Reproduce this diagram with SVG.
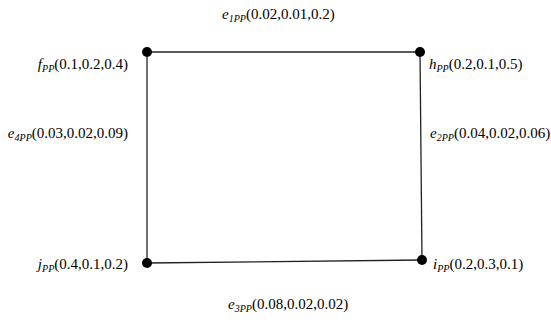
<svg xmlns="http://www.w3.org/2000/svg" width="551" height="323" viewBox="0 0 551 323">
<style>
.t{font-family:'Liberation Serif','DejaVu Serif',serif;font-size:15px;fill:#000}
.v{font-style:italic}
.s{font-style:italic;font-size:10px}
.e{stroke:#222;stroke-width:1.3;fill:none}
.n{fill:#000}
</style>
<rect width="551" height="323" fill="#fff"/>
<g id="connectors">
<line class="e" x1="147" y1="52" x2="420" y2="52"/>
<line class="e" x1="420" y1="52" x2="422" y2="260"/>
<line class="e" x1="422" y1="260" x2="147" y2="263"/>
<line class="e" x1="147" y1="263" x2="147" y2="52"/>
</g>
<g id="edge-labels">
<text class="t" x="222" y="19"><tspan class="v">e</tspan><tspan class="s" dy="3">1PP</tspan><tspan dy="-3">(0.02,0.01,0.2)</tspan></text>
<text class="t" x="430" y="138"><tspan class="v">e</tspan><tspan class="s" dy="3">2PP</tspan><tspan dy="-3">(0.04,0.02,0.06)</tspan></text>
<text class="t" x="228" y="309"><tspan class="v">e</tspan><tspan class="s" dy="3">3PP</tspan><tspan dy="-3">(0.08,0.02,0.02)</tspan></text>
<text class="t" x="128" y="138" text-anchor="end"><tspan class="v">e</tspan><tspan class="s" dy="3">4PP</tspan><tspan dy="-3">(0.03,0.02,0.09)</tspan></text>
</g>
<g id="node-f">
<circle class="n" cx="147" cy="52" r="5"/>
<text class="t" x="128" y="69" text-anchor="end"><tspan class="v">f</tspan><tspan class="s" dy="3">PP</tspan><tspan dy="-3">(0.1,0.2,0.4)</tspan></text>
</g>
<g id="node-h">
<circle class="n" cx="420" cy="52" r="5"/>
<text class="t" x="429" y="69"><tspan class="v">h</tspan><tspan class="s" dy="3">PP</tspan><tspan dy="-3">(0.2,0.1,0.5)</tspan></text>
</g>
<g id="node-i">
<circle class="n" cx="422" cy="260" r="5"/>
<text class="t" x="433" y="269"><tspan class="v">i</tspan><tspan class="s" dy="3">PP</tspan><tspan dy="-3">(0.2,0.3,0.1)</tspan></text>
</g>
<g id="node-j">
<circle class="n" cx="147" cy="263" r="5"/>
<text class="t" x="128" y="269" text-anchor="end"><tspan class="v">j</tspan><tspan class="s" dy="3">PP</tspan><tspan dy="-3">(0.4,0.1,0.2)</tspan></text>
</g>
</svg>
